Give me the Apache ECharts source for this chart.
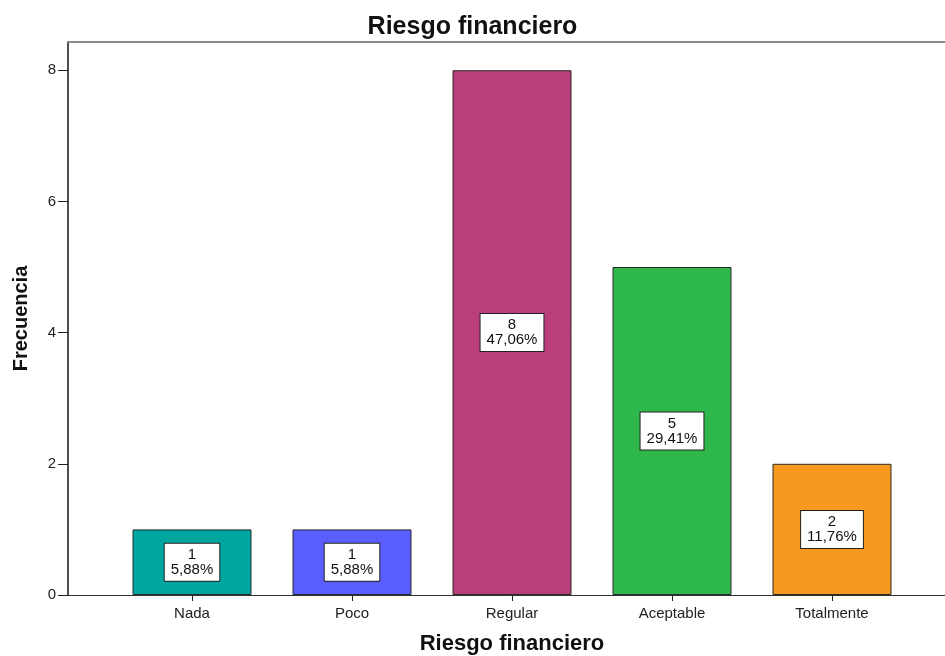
<!DOCTYPE html>
<html>
<head>
<meta charset="utf-8">
<script src="https://cdn.jsdelivr.net/npm/echarts@6/dist/echarts.min.js"></script>
<style>
  html, body { margin: 0; padding: 0; background: #fff; }
  #chart { width: 945px; height: 656px; }
</style>
</head>
<body>
<div id="chart"></div>
<script>
// Riesgo financiero: frequency of each response level
const categories = ['Nada', 'Poco', 'Regular', 'Aceptable', 'Totalmente'];
const counts = [1, 1, 8, 5, 2];
const yTicks = [0, 2, 4, 6, 8];

const barColors = ['#00a6a0', '#5a5eff', '#b93f7c', '#2eb84b', '#f7991f'];
const FONT = '"Liberation Sans", Arial, sans-serif';
const Y_MAX = 8.43;

const total = counts.reduce((a, b) => a + b, 0);
const pct = v => (v / total * 100).toFixed(2).replace('.', ',') + '%';

const chart = echarts.init(document.getElementById('chart'));
chart.setOption({
  backgroundColor: '#ffffff',
  animation: false,
  title: {
    text: 'Riesgo financiero',
    left: 'center',
    top: 10,
    textStyle: { fontFamily: FONT, fontSize: 25, fontWeight: 'bold', color: '#111' }
  },
  grid: [
    // bars
    { left: 112, right: 33, top: 42, bottom: 61, containLabel: false, outerBoundsMode: 'none' },
    // frame with axis lines
    { left: 68, right: -10, top: 42, bottom: 61, containLabel: false, outerBoundsMode: 'none' }
  ],
  xAxis: [
    {
      type: 'category',
      gridIndex: 0,
      data: categories,
      axisLine: { show: false },
      axisTick: { show: true, alignWithLabel: true, length: 6, lineStyle: { color: '#222', width: 1 } },
      axisLabel: { fontFamily: FONT, fontSize: 15, color: '#222', margin: 11 },
      name: 'Riesgo financiero',
      nameLocation: 'middle',
      nameGap: 38,
      nameTextStyle: { fontFamily: FONT, fontSize: 22, fontWeight: 'bold', color: '#111' },
      z: 5
    },
    {
      type: 'value',
      gridIndex: 1,
      min: 0, max: 1,
      axisLine: { show: true, lineStyle: { color: '#333', width: 1 } },
      axisTick: { show: false },
      axisLabel: { show: false },
      splitLine: { show: false }
    },
    {
      type: 'value',
      gridIndex: 1,
      position: 'top',
      min: 0, max: 1,
      axisLine: { show: true, lineStyle: { color: '#8a8a8a', width: 2 } },
      axisTick: { show: false },
      axisLabel: { show: false },
      splitLine: { show: false }
    }
  ],
  yAxis: [
    {
      type: 'value',
      gridIndex: 0,
      min: 0, max: Y_MAX,
      show: false,
      splitLine: { show: false }
    },
    {
      type: 'value',
      gridIndex: 1,
      min: 0, max: Y_MAX,
      axisLine: { show: true, lineStyle: { color: '#111', width: 1.5 } },
      axisTick: { show: true, length: 10, customValues: yTicks, lineStyle: { color: '#222', width: 1 } },
      axisLabel: { customValues: yTicks, fontFamily: FONT, fontSize: 15, color: '#222', margin: 12 },
      splitLine: { show: false },
      name: 'Frecuencia',
      nameLocation: 'middle',
      nameGap: 37,
      nameTextStyle: { fontFamily: FONT, fontSize: 20, fontWeight: 'bold', color: '#111' }
    }
  ],
  series: [{
    type: 'bar',
    xAxisIndex: 0,
    yAxisIndex: 0,
    barWidth: 119,
    data: counts.map((v, i) => ({
      value: v,
      itemStyle: { color: barColors[i], borderColor: '#2a2a2a', borderWidth: 1 }
    })),
    label: {
      show: true,
      position: 'inside',
      formatter: p => p.value + '\n' + pct(p.value),
      fontFamily: FONT,
      fontSize: 15,
      lineHeight: 15,
      color: '#111',
      backgroundColor: '#ffffff',
      borderColor: '#222',
      borderWidth: 1,
      padding: [4, 6, 3, 6],
      align: 'center'
    },
    z: 3
  }]
});
</script>
</body>
</html>
